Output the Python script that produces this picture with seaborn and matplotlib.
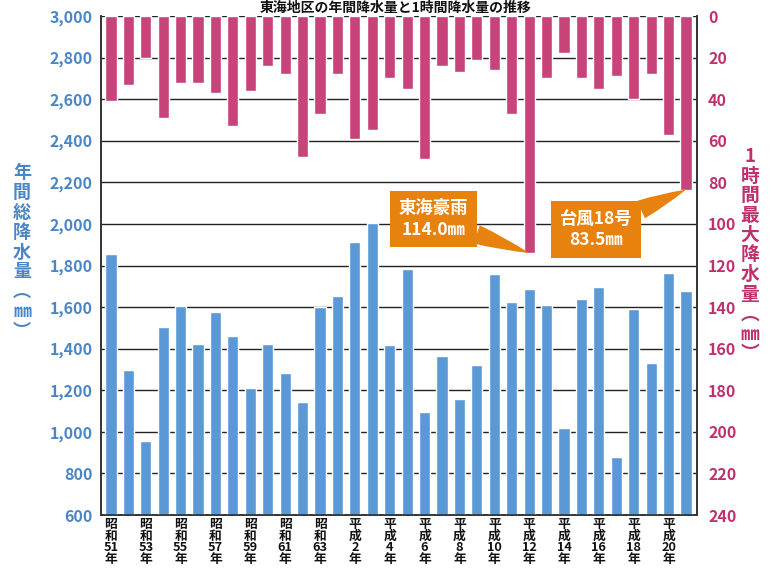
import matplotlib
matplotlib.use("Agg")
import matplotlib.pyplot as plt
import seaborn as sns
import pandas as pd
from matplotlib.ticker import FuncFormatter

# ---- data ----
years = ["昭和51年", "昭和52年", "昭和53年", "昭和54年", "昭和55年", "昭和56年", "昭和57年",
         "昭和58年", "昭和59年", "昭和60年", "昭和61年", "昭和62年", "昭和63年", "平成元年",
         "平成2年", "平成3年", "平成4年", "平成5年", "平成6年", "平成7年", "平成8年",
         "平成9年", "平成10年", "平成11年", "平成12年", "平成13年", "平成14年", "平成15年",
         "平成16年", "平成17年", "平成18年", "平成19年", "平成20年", "平成21年"]
annual_mm = [1855, 1295, 955, 1505, 1605, 1424, 1575, 1461, 1211, 1424, 1284, 1145,
             1602, 1655, 1915, 2006, 1418, 1782, 1097, 1365, 1156, 1322, 1758, 1623,
             1686, 1612, 1017, 1637, 1698, 877, 1589, 1333, 1763, 1679]
hourly_max_mm = [41, 33, 20, 49, 32, 32, 37, 53, 36, 24, 28, 68, 47, 28, 59, 55, 30,
                 35, 69, 24, 27, 21, 26, 47, 114.0, 30, 18, 30, 35, 29, 40, 28, 57, 83.5]
shown_labels = ["昭\n和\n51\n年", "", "昭\n和\n53\n年", "", "昭\n和\n55\n年", "",
                "昭\n和\n57\n年", "", "昭\n和\n59\n年", "", "昭\n和\n61\n年", "",
                "昭\n和\n63\n年", "", "平\n成\n2\n年", "", "平\n成\n4\n年", "",
                "平\n成\n6\n年", "", "平\n成\n8\n年", "", "平\n成\n10\n年", "",
                "平\n成\n12\n年", "", "平\n成\n14\n年", "", "平\n成\n16\n年", "",
                "平\n成\n18\n年", "", "平\n成\n20\n年", ""]
left_ticks = [600, 800, 1000, 1200, 1400, 1600, 1800, 2000, 2200, 2400, 2600, 2800, 3000]
right_ticks = [0, 20, 40, 60, 80, 100, 120, 140, 160, 180, 200, 220, 240]

title = "東海地区の年間降水量と1時間降水量の推移"
left_label = "年\n間\n総\n降\n水\n量\n︵\n㎜\n︶"
right_label = "1\n時\n間\n最\n大\n降\n水\n量\n︵\n㎜\n︶"
notes = [("東海豪雨\n114.0㎜", 24, 114.0, (-96, 34)),
         ("台風18号\n83.5㎜", 33, 83.5, (-90, -40))]

BLUE = "#5b98d6"
PINK = "#c7437a"
BLUE_TXT = "#4a86c6"
PINK_TXT = "#c0306e"
ORANGE = "#e8820e"

sns.set_theme(style="white")
plt.rcParams["font.family"] = ["Noto Sans CJK JP", "DejaVu Sans"]

fig = plt.figure(figsize=(7.75, 5.77), dpi=100)
ax = fig.add_axes([101 / 775, 1 - 515 / 577, 596 / 775, 499 / 577])

df = pd.DataFrame({"year": years, "annual": annual_mm, "hourly": hourly_max_mm})

sns.barplot(data=df, x="year", y="annual", order=years, color=BLUE, saturation=1,
            width=0.64, ax=ax, zorder=3)
ax.set_ylim(left_ticks[0], left_ticks[-1])
ax.set_yticks(left_ticks)
ax.yaxis.set_major_formatter(FuncFormatter(lambda v, p: f"{int(v):,}"))
ax.grid(axis="y", color="#222222", linewidth=1.0, zorder=0)
ax.set_axisbelow(True)

ax2 = ax.twinx()
sns.barplot(data=df, x="year", y="hourly", order=years, color=PINK, saturation=1,
            width=0.64, ax=ax2, zorder=3)
ax2.set_ylim(right_ticks[-1], right_ticks[0])
ax2.set_yticks(right_ticks)

ax.set_xlim(-0.57, len(years) - 0.37)
ax.set_xticks(range(len(years)))
ax.set_xticklabels(shown_labels, fontsize=9.2, fontweight="bold", color="#111111",
                   linespacing=0.88, va="top")
ax.tick_params(axis="x", length=0, pad=2)
ax.set_xlabel("")
ax.set_ylabel("")
ax2.set_ylabel("")
ax2.set_xlabel("")

for lab in ax.get_yticklabels():
    lab.set_color(BLUE_TXT)
    lab.set_fontweight("bold")
    lab.set_fontsize(11.5)
for lab in ax2.get_yticklabels():
    lab.set_color(PINK_TXT)
    lab.set_fontweight("bold")
    lab.set_fontsize(11.5)
ax.tick_params(axis="y", length=0, pad=6)
ax2.tick_params(axis="y", length=0, pad=8)

for a in (ax, ax2):
    a.spines["top"].set_visible(False)
    for s in ("left", "right", "bottom"):
        a.spines[s].set_color("#333333")
        a.spines[s].set_linewidth(1.2)

fig.text(22 / 775, 1 - 252 / 577, left_label, color=BLUE_TXT, fontsize=13,
         fontweight="bold", ha="center", va="center", linespacing=1.05)
fig.text(750 / 775, 1 - 255 / 577, right_label, color=PINK_TXT, fontsize=13.5,
         fontweight="bold", ha="center", va="center", linespacing=1.05)

fig.text(0.51, 1 - 1 / 577, title, fontsize=10, fontweight="bold", ha="center",
         va="top", color="#111111")

for text, xi, yv, off in notes:
    ax2.annotate(text, xy=(xi, yv), xytext=off, textcoords="offset pixels",
                 ha="center", va="center", color="white", fontsize=12.5,
                 fontweight="bold", linespacing=1.25, zorder=10,
                 bbox=dict(boxstyle="square,pad=0.5", fc=ORANGE, ec="none"),
                 arrowprops=dict(arrowstyle="wedge,tail_width=1.1,shrink_factor=0.6",
                                 fc=ORANGE, ec="none", shrinkA=0, shrinkB=0))

fig.savefig("out.png", dpi=100)
